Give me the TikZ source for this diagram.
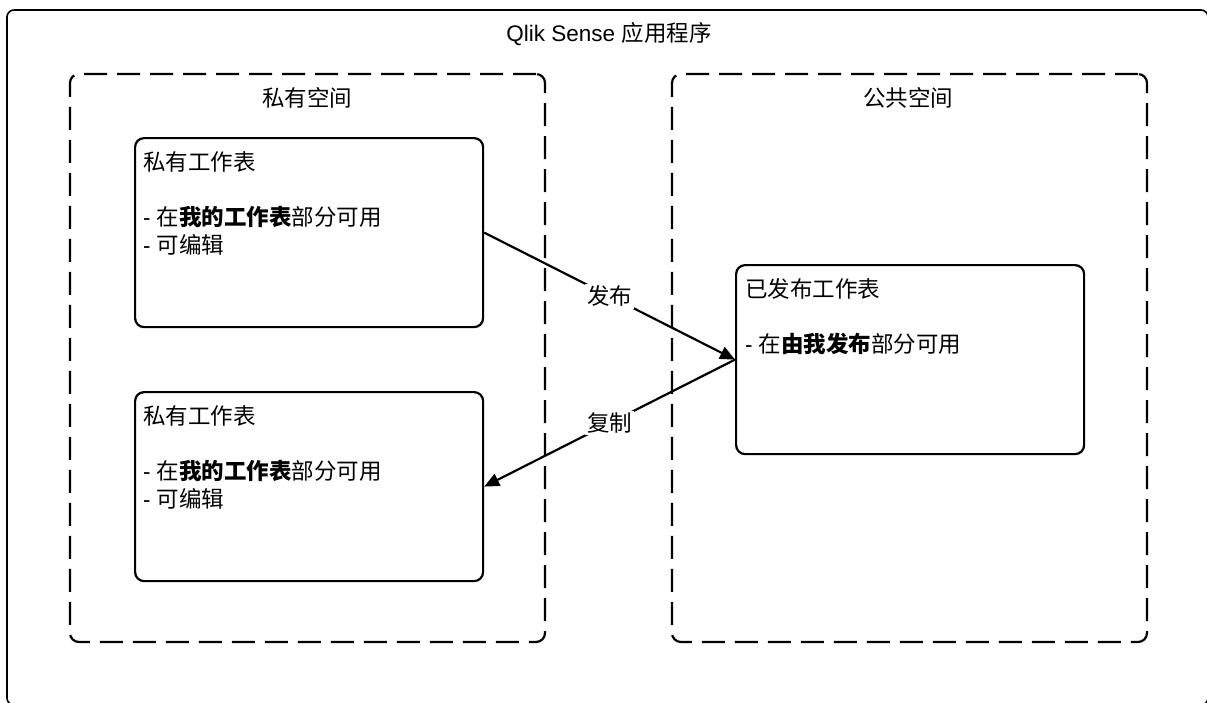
\documentclass[tikz,border=0pt]{standalone}
\usepackage{fontspec}
\setmainfont{Liberation Sans}
\newfontfamily\zh{Noto Sans CJK SC}
\usetikzlibrary{arrows.meta}
\begin{document}
\begin{tikzpicture}[x=1pt,y=-1pt,
  outerbox/.style={draw, line width=1.6pt, rounded corners=7pt, anchor=north west, inner sep=0pt, outer sep=0pt},
  spacebox/.style={draw, line width=2.2pt, rounded corners=9pt, dash pattern=on 23pt off 10pt, anchor=north west, inner sep=0pt, outer sep=0pt, minimum width=475pt, minimum height=568pt},
  sheet/.style={draw, line width=2.2pt, rounded corners=9pt, anchor=north west, inner sep=0pt, minimum width=348pt, minimum height=189pt},
  txt/.style={font=\fontsize{22.5}{28}\selectfont, inner sep=0pt},
  body/.style={txt, anchor=north west, align=left},
  flow/.style={line width=2.2pt, -{Triangle[length=15pt,width=13pt]}},
  lbl/.style={txt, fill=white, inner sep=2pt}]
\useasboundingbox (0,0) rectangle (1207,702);
\node[outerbox, minimum width=1201pt, minimum height=695pt] (app) at (7,10) {};
\node[txt] (title) at (609,34) {Qlik Sense {\zh 应用程序}};
\node[spacebox] (priv) at (70,74) {};
\node[spacebox] (pubsp) at (672,74) {};
\node[txt] (hpriv) at (307,98) {\zh 私有空间};
\node[txt] (hpub) at (908,98) {\zh 公共空间};
\node[sheet] (b1) at (134,137) {};
\node[sheet] (b2) at (134,391) {};
\node[sheet] (pub) at (735,264) {};
\node[body] (t1) at (143,149.5) {\rule{0pt}{21pt}{\zh 私有工作表}\\[27pt]- {\zh 在\textbf{我的工作表}部分可用}\\- {\zh 可编辑}};
\node[body] (t2) at (143,403.5) {\rule{0pt}{21pt}{\zh 私有工作表}\\[27pt]- {\zh 在\textbf{我的工作表}部分可用}\\- {\zh 可编辑}};
\node[body] (t3) at (745,276.5) {\rule{0pt}{21pt}{\zh 已发布工作表}\\[27pt]- {\zh 在\textbf{由我发布}部分可用}};
\draw[flow] (b1.east) -- node[lbl] (l1) {\zh 发布} (pub.west);
\draw[flow] (pub.west) -- node[lbl] (l2) {\zh 复制} (b2.east);
\end{tikzpicture}
\end{document}
